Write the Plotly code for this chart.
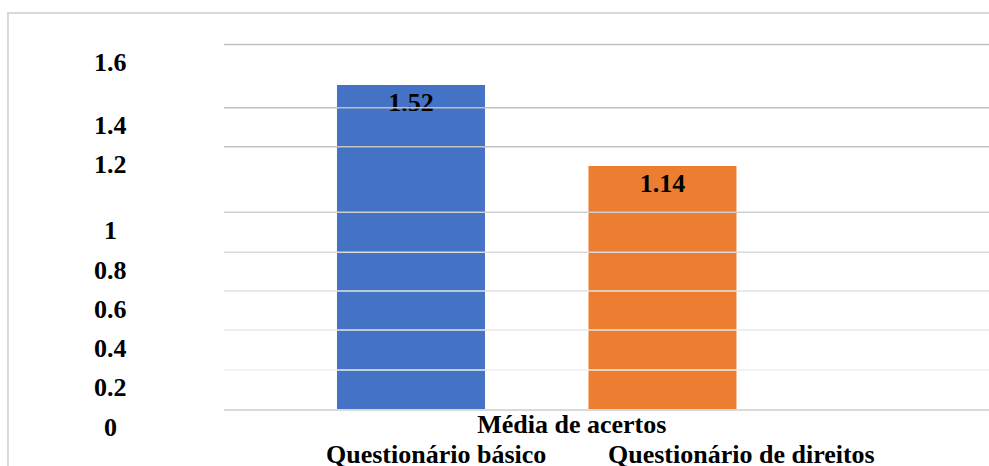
import plotly.graph_objects as go

# ---- data ----
categories = ["Média de acertos"]
series_names = ["Questionário básico", "Questionário de direitos"]
series_basico = [1.52]
series_direitos = [1.14]
y_tick_labels = ["0", "0.2", "0.4", "0.6", "0.8", "1", "1.2", "1.4", "1.6"]

# ---- styling / positions (irregular gridlines as drawn in the reference) ----
grid_positions = [0, 0.183, 0.3705, 0.5535, 0.735, 0.9226, 1.2303, 1.4132, 1.7097]
grid_colors = ["#d9d9d9", "#eeeeee", "#e9e9e9", "#e2e2e2", "#dadada",
               "#cfcfcf", "#c2c2c2", "#c0c0c0", "#c0c0c0"]
bar_colors = ["#4472C4", "#ED7D31"]
FONT = dict(family="Liberation Serif", size=26, color="black", weight="bold")

fig = go.Figure()
for name, vals, col in zip(series_names, [series_basico, series_direitos], bar_colors):
    fig.add_trace(go.Bar(
        x=categories, y=vals, name=name,
        marker=dict(color=col, line=dict(width=0)),
        texttemplate="%{y:.2f}", textposition="inside", insidetextanchor="end",
        textangle=0, textfont=FONT, constraintext="none", showlegend=False,
    ))

shapes = []
# gridlines drawn above the bars, as in the reference
for gp, gc in zip(grid_positions[1:], grid_colors[1:]):
    shapes.append(dict(type="line", xref="paper", yref="y", x0=0, x1=1, y0=gp, y1=gp,
                       line=dict(color=gc, width=1.5), layer="above"))
# outer frame
shapes.append(dict(type="rect", xref="paper", yref="paper", x0=-0.2824, x1=1.05,
                   y0=-0.3, y1=1.018, line=dict(color="#d9d9d9", width=2),
                   fillcolor="rgba(0,0,0,0)", layer="below"))

annotations = []
for lab, gp in zip(y_tick_labels, grid_positions):
    annotations.append(dict(text=lab, xref="paper", yref="y", x=-0.1484, y=gp,
                            xanchor="center", yanchor="middle", yshift=-18,
                            showarrow=False, font=FONT))
for name, xp in zip(series_names, [0.2771, 0.6771]):
    annotations.append(dict(text=name, xref="paper", yref="paper", x=xp, y=-0.118,
                            xanchor="center", yanchor="middle",
                            showarrow=False, font=FONT))

fig.update_layout(
    width=989, height=466,
    margin=dict(l=224, r=0, t=20, b=57),
    paper_bgcolor="white", plot_bgcolor="white",
    barmode="group", bargap=0.3425, bargroupgap=0.4115,
    xaxis=dict(type="category", range=[-0.4088, 0.5912], showgrid=False,
               showline=True, linecolor="#d9d9d9", linewidth=1.5, ticks="",
               tickfont=FONT, ticklabelshift=35, ticklabelstandoff=-9),
    yaxis=dict(range=[0, 1.8246], showgrid=False, zeroline=False,
               showticklabels=False, showline=False),
    shapes=shapes, annotations=annotations,
)

fig.write_html("out.html")
